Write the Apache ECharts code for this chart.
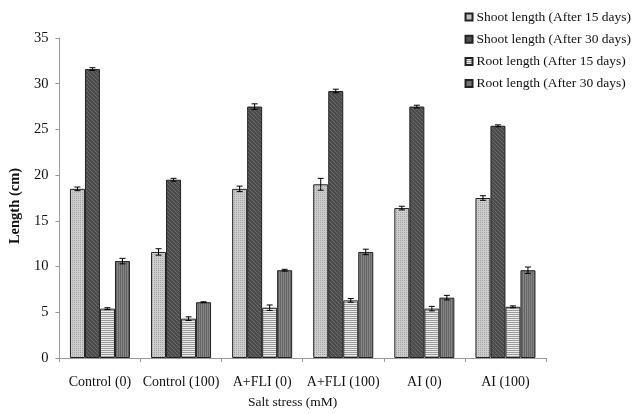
<!DOCTYPE html>
<html>
<head>
<meta charset="utf-8">
<script src="https://cdn.jsdelivr.net/npm/echarts@6/dist/echarts.min.js"></script>
<style>
  html, body { margin: 0; padding: 0; background: #fff; }
  #chart { width: 634px; height: 414px; }
</style>
</head>
<body>
<div id="chart"></div>
<script>
// Treatments along the x axis
var categories = ['Control (0)', 'Control (100)', 'A+FLI (0)', 'A+FLI (100)', 'AI (0)', 'AI (100)'];

// Mean lengths (cm)
var shoot15 = [18.5, 11.6, 18.5, 19.0, 16.4, 17.5];
var shoot30 = [31.6, 19.5, 27.5, 29.2, 27.5, 25.4];
var root15  = [5.4, 4.3, 5.5, 6.3, 5.4, 5.6];
var root30  = [10.6, 6.1, 9.6, 11.6, 6.6, 9.6];

// Standard errors (cm)
var shoot15Err = [0.2, 0.35, 0.3, 0.65, 0.2, 0.25];
var shoot30Err = [0.15, 0.15, 0.3, 0.2, 0.15, 0.1];
var root15Err  = [0.1, 0.2, 0.3, 0.2, 0.25, 0.1];
var root30Err  = [0.3, 0.05, 0.1, 0.3, 0.25, 0.35];

var seriesNames = [
  'Shoot length (After 15 days)',
  'Shoot length (After 30 days)',
  'Root length (After 15 days)',
  'Root length (After 30 days)'
];
var yTicks = [0, 5, 10, 15, 20, 25, 30, 35];

var FONT = '"Liberation Serif", "Times New Roman", serif';
var CAT_GAP = 0.26;

// Small tiled fills for each series
function makePattern(draw) {
  var c = document.createElement('canvas');
  c.width = 4; c.height = 4;
  var ctx = c.getContext('2d');
  draw(ctx);
  return { image: c, repeat: 'repeat' };
}
var fillShoot15 = makePattern(function (ctx) {
  ctx.fillStyle = '#cccccc'; ctx.fillRect(0, 0, 4, 4);
  ctx.fillStyle = '#a6a6a6';
  ctx.fillRect(0, 0, 1, 1); ctx.fillRect(2, 2, 1, 1); ctx.fillRect(2, 0, 1, 1); ctx.fillRect(0, 2, 1, 1);
});
var fillShoot30 = makePattern(function (ctx) {
  ctx.fillStyle = '#4c4c4c'; ctx.fillRect(0, 0, 4, 4);
  ctx.fillStyle = '#686868';
  ctx.fillRect(0, 0, 1, 1); ctx.fillRect(2, 2, 1, 1); ctx.fillRect(1, 1, 1, 1); ctx.fillRect(3, 3, 1, 1);
});
var fillRoot15 = makePattern(function (ctx) {
  ctx.fillStyle = '#ececec'; ctx.fillRect(0, 0, 4, 4);
  ctx.fillStyle = '#9a9a9a';
  ctx.fillRect(0, 0, 4, 1); ctx.fillRect(0, 2, 4, 1);
});
var fillRoot30 = makePattern(function (ctx) {
  ctx.fillStyle = '#858585'; ctx.fillRect(0, 0, 4, 4);
  ctx.fillStyle = '#666666';
  ctx.fillRect(0, 0, 1, 4); ctx.fillRect(2, 0, 1, 4);
});

var values = [shoot15, shoot30, root15, root30];
var errors = [shoot15Err, shoot30Err, root15Err, root30Err];
var fills = [fillShoot15, fillShoot30, fillRoot15, fillRoot30];

var series = [];
values.forEach(function (vals, i) {
  series.push({
    name: seriesNames[i],
    type: 'bar',
    data: vals,
    barGap: 0,
    barCategoryGap: (CAT_GAP * 100) + '%',
    itemStyle: { color: fills[i], borderColor: '#222', borderWidth: 1 },
    emphasis: { disabled: true }
  });
});

// Error bars drawn on top of each bar
values.forEach(function (vals, i) {
  var errData = vals.map(function (v, k) { return [k, v - errors[i][k], v + errors[i][k]]; });
  series.push({
    type: 'custom',
    name: seriesNames[i] + ' error',
    silent: true,
    z: 5,
    data: errData,
    renderItem: function (params, api) {
      var k = api.value(0);
      var lo = api.coord([k, api.value(1)]);
      var hi = api.coord([k, api.value(2)]);
      var catW = api.size([1, 0])[0];
      var barW = catW * (1 - CAT_GAP) / 4;
      var x = lo[0] + (i - 1.5) * barW;
      var cap = 3;
      var style = { stroke: '#000', lineWidth: 1 };
      return {
        type: 'group',
        children: [
          { type: 'line', shape: { x1: x, y1: hi[1], x2: x, y2: lo[1] }, style: style },
          { type: 'line', shape: { x1: x - cap, y1: hi[1], x2: x + cap, y2: hi[1] }, style: style },
          { type: 'line', shape: { x1: x - cap, y1: lo[1], x2: x + cap, y2: lo[1] }, style: style }
        ]
      };
    }
  });
});

var chart = echarts.init(document.getElementById('chart'), null, { renderer: 'canvas' });
chart.setOption({
  animation: false,
  backgroundColor: '#fff',
  textStyle: { fontFamily: FONT },
  grid: { left: 58, right: 88, top: 38, bottom: 52 },
  legend: {
    data: seriesNames,
    orient: 'vertical',
    right: 3,
    top: 10,
    padding: 0,
    itemWidth: 7,
    itemHeight: 7,
    itemGap: 8.2,
    icon: 'rect',
    textStyle: { fontFamily: FONT, fontSize: 13.5, color: '#111', padding: [0, 0, 0, -1] }
  },
  xAxis: {
    type: 'category',
    data: categories,
    name: 'Salt stress (mM)',
    nameLocation: 'middle',
    nameGap: 37,
    nameTextStyle: { fontFamily: FONT, fontSize: 13.5, color: '#111', padding: [0, 20, 0, 0] },
    axisLine: { lineStyle: { color: '#999' } },
    axisTick: { show: true, length: 4, lineStyle: { color: '#999' } },
    axisLabel: { fontFamily: FONT, fontSize: 14, color: '#111', margin: 17, interval: 0 }
  },
  yAxis: {
    type: 'value',
    min: yTicks[0],
    max: yTicks[yTicks.length - 1],
    interval: 5,
    name: 'Length (cm)',
    nameLocation: 'middle',
    nameGap: 36,
    nameTextStyle: { fontFamily: FONT, fontSize: 14.5, fontWeight: 'bold', color: '#111', padding: [0, 16, 0, 0] },
    axisLine: { show: true, lineStyle: { color: '#999' } },
    axisTick: { show: true, length: 4, lineStyle: { color: '#999' } },
    splitLine: { show: false },
    axisLabel: { fontFamily: FONT, fontSize: 14.5, color: '#111', margin: 11 }
  },
  series: series
});
</script>
</body>
</html>
